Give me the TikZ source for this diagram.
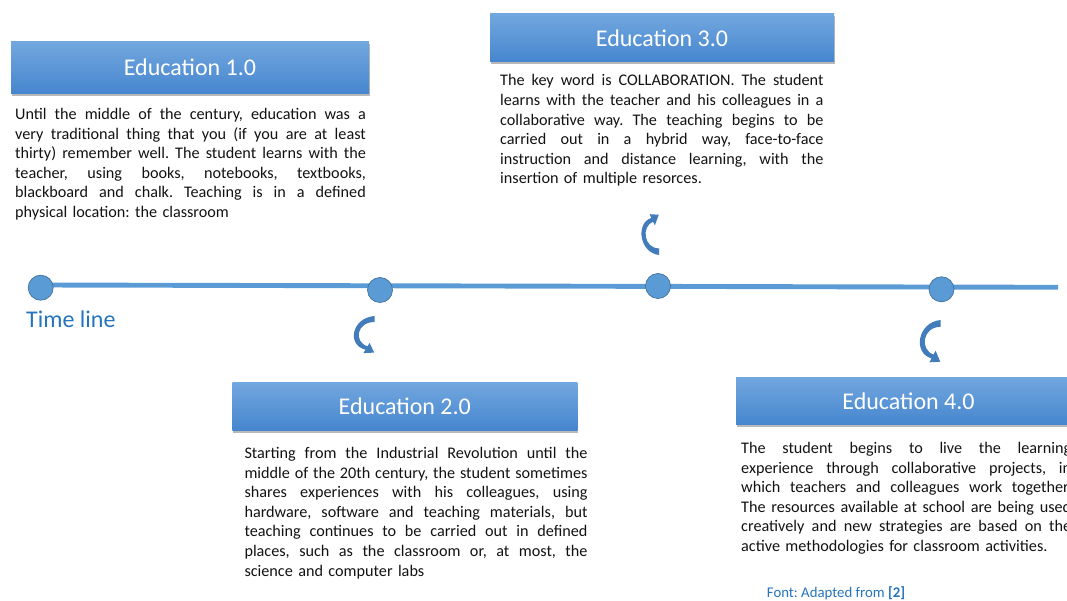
\documentclass[tikz,border=0pt]{standalone}
\usepackage{fontspec}
\setmainfont{Carlito}
\usetikzlibrary{shadows}
\definecolor{hdtop}{RGB}{114,167,223}
\definecolor{hdbot}{RGB}{70,134,206}
\definecolor{tlblue}{RGB}{91,155,213}
\definecolor{tlborder}{RGB}{65,113,156}
\definecolor{arrowblue}{RGB}{66,124,186}
\definecolor{labelblue}{RGB}{36,116,190}
\definecolor{bodytext}{RGB}{18,18,18}
\tikzset{
  header/.style={rectangle, inner sep=0pt, top color=hdtop, bottom color=hdbot, draw=none,
    text=white, font=\fontsize{24}{29}\selectfont,
    drop shadow={shadow xshift=0.8pt, shadow yshift=-2.5pt, opacity=0.28, fill=black}},
  bodytxt/.style={inner sep=0pt, anchor=north west, align=left, text=bodytext,
    font=\fontsize{16.2}{19.6}\selectfont\frenchspacing},
  dot/.style={circle, minimum size=25pt, inner sep=0pt, fill=tlblue, draw=tlborder, line width=0.7pt},
  tline/.style={draw=tlblue, line width=4.9pt},
  bendarrow/.pic={
    \fill[arrowblue] (0,0) .. controls (-23,2) and (-28,29) .. (-9,33.7)
      -- (-11.1,37.1) -- (-0.3,36.6) -- (-4.9,26.9) -- (-7,30.3)
      .. controls (-21,26) and (-18,6) .. (0,6) -- cycle;
  }
}
\newcommand{\jl}[2]{\leavevmode{\spaceskip=0.226em plus 3em minus 0.06em\xspaceskip=\spaceskip\hbox to #1{#2}}}
\begin{document}
\begin{tikzpicture}[x=1pt, y=-1pt]
\useasboundingbox (0,0) rectangle (1067,601);
\clip (0,0) rectangle (1067,601);

% timeline
\coordinate (tls) at (40,285);
\coordinate (tle) at (1058,287.3);
\draw[tline] (tls) -- (tle);
\node[dot] (d1) at (40.7,287.7) {};
\node[dot] (d2) at (380,290) {};
\node[dot] (d3) at (658,286) {};
\node[dot] (d4) at (941.5,289.3) {};
\node[anchor=base west, inner sep=0pt, text=labelblue, font=\fontsize{24}{29}\selectfont] (tlab) at (26,327.5) {Time line};

% curved arrows
\pic (a1) at (374.5,316) {bendarrow};
\pic[xscale=0.85, yscale=-1.1] (a2) at (659,255) {bendarrow};
\pic[yscale=1.14] (a3) at (940.5,320) {bendarrow};

% headers
\node[header, minimum width=358pt, minimum height=51.6pt] (h1) at (190,67.5) {Education 1.0};
\node[header, minimum width=345pt, minimum height=47.7pt] (h2) at (404.8,406.2) {Education 2.0};
\node[header, minimum width=344pt, minimum height=47.7pt] (h3) at (662,37.85) {Education 3.0};
\node[header, minimum width=345pt, minimum height=47pt] (h4) at (908.5,400.8) {Education 4.0};

% body texts
\node[bodytxt, text width=350.7pt] (b1) at (15,105.6) {\strut
\jl{350.7pt}{Until the middle of the century, education was a}\\
\jl{350.7pt}{very traditional thing that you (if you are at least}\\
\jl{350.7pt}{thirty) remember well. The student learns with the}\\
\jl{350.7pt}{teacher, using books, notebooks, textbooks,}\\
\jl{350.7pt}{blackboard and chalk. Teaching is in a defined}\\
physical location: the classroom};

\node[bodytxt, text width=343pt] (b2) at (244.3,444.6) {\strut
\jl{343pt}{Starting from the Industrial Revolution until the}\\
\jl{343pt}{middle of the 20th century, the student sometimes}\\
\jl{343pt}{shares experiences with his colleagues, using}\\
\jl{343pt}{hardware, software and teaching materials, but}\\
\jl{343pt}{teaching continues to be carried out in defined}\\
\jl{343pt}{places, such as the classroom or, at most, the}\\
science and computer labs};

\node[bodytxt, text width=323.3pt] (b3) at (500,72) {\strut
\jl{323.3pt}{The key word is COLLABORATION. The student}\\
\jl{323.3pt}{learns with the teacher and his colleagues in a}\\
\jl{323.3pt}{collaborative way. The teaching begins to be}\\
\jl{323.3pt}{carried out in a hybrid way, face-to-face}\\
\jl{323.3pt}{instruction and distance learning, with the}\\
insertion of multiple resorces.};

\node[bodytxt, text width=330pt] (b4) at (741,439.6) {\strut
\jl{330pt}{The student begins to live the learning}\\
\jl{330pt}{experience through collaborative projects, in}\\
\jl{330pt}{which teachers and colleagues work together.}\\
\jl{330pt}{The resources available at school are being used}\\
\jl{330pt}{creatively and new strategies are based on the}\\
active methodologies for classroom activities.};

% footnote
\node[anchor=base west, inner sep=0pt, text=labelblue, font=\fontsize{14.8}{18}\selectfont\frenchspacing] (fn) at (766.7,597.3) {Font: Adapted from \textbf{[2]}};
\end{tikzpicture}
\end{document}
